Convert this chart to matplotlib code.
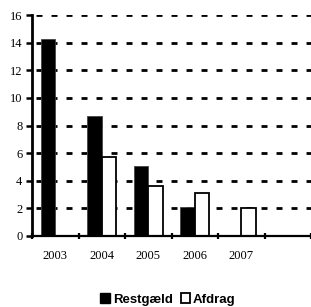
import matplotlib
matplotlib.use("Agg")
import matplotlib.pyplot as plt
from matplotlib.patches import Patch
import numpy as np

years = ["2003", "2004", "2005", "2006", "2007", ""]
restgaeld = [14.3, 8.7, 5.1, 2.1, 0.0, 0.0]
afdrag = [0.0, 5.7, 3.6, 3.1, 2.0, 0.0]
yticks = [0, 2, 4, 6, 8, 10, 12, 14, 16]

plt.rcParams["lines.scale_dashes"] = False

fig = plt.figure(figsize=(3.11, 3.07), dpi=100)
ax = fig.add_axes([0.103, 0.2313, 0.897, 0.7197])

x = np.arange(len(years)) + 0.5
w = 0.31
# gridlines
for yv in yticks[1:]:
    ax.axhline(yv, color="black", lw=2.0, linestyle=(7.9, (4.3, 6.5)), zorder=1)
ax.bar(x - w / 2, restgaeld, width=w, color="black", edgecolor="#444444", linewidth=0.6, zorder=2)
ax.bar(x + w / 2, afdrag, width=w, color="white", edgecolor="black", linewidth=1.3, zorder=2)

ax.set_xlim(0, 6)
ax.set_ylim(0, 16)
for s in ["top", "right"]:
    ax.spines[s].set_visible(False)
ax.spines["left"].set_linewidth(2.0)
ax.spines["bottom"].set_linewidth(1.6)
ax.spines["left"].set_zorder(5)
ax.spines["bottom"].set_zorder(5)

ax.set_yticks(yticks)
ax.set_yticklabels([str(v) for v in yticks], fontfamily="Liberation Serif", fontsize=9)
ax.tick_params(axis="y", length=4, width=1.8, pad=3)

ax.set_xticks(x)
ax.set_xticklabels(years, fontfamily="Liberation Serif", fontsize=9)
ax.set_xticks(np.arange(0, 7), minor=True)
ax.tick_params(axis="x", which="major", length=0, pad=10)
ax.tick_params(axis="x", which="minor", length=4, width=1.6, direction="inout")

handles = [Patch(facecolor="black", edgecolor="black"),
           Patch(facecolor="white", edgecolor="black", linewidth=1.3)]
leg = fig.legend(handles, ["Restgæld", "Afdrag"], loc="center", bbox_to_anchor=(0.54, 0.024),
                 ncol=2, frameon=False, handlelength=0.75, handleheight=0.75,
                 handletextpad=0.2, columnspacing=0.6,
                 prop={"family": "Liberation Sans", "weight": "bold", "size": 9.5})

fig.savefig("out.png", dpi=100)
